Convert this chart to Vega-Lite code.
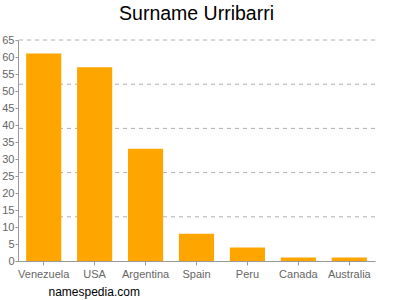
{
  "$schema": "https://vega.github.io/schema/vega-lite/v6.json",
  "width": 357,
  "height": 221,
  "autosize": {"type": "none"},
  "padding": {"left": 18, "top": 40, "right": 25, "bottom": 39},
  "background": "white",
  "title": {
    "text": "Surname Urribarri",
    "font": "Liberation Sans",
    "fontSize": 19.5,
    "fontWeight": "normal",
    "color": "#000",
    "anchor": "middle",
    "offset": 10
  },
  "datasets": {
    "bars": [
      {"country": "Venezuela", "count": 61},
      {"country": "USA", "count": 57},
      {"country": "Argentina", "count": 33},
      {"country": "Spain", "count": 8},
      {"country": "Peru", "count": 4},
      {"country": "Canada", "count": 1},
      {"country": "Australia", "count": 1}
    ],
    "grid": [
      {"level": 13}, {"level": 26}, {"level": 39}, {"level": 52}, {"level": 65}
    ]
  },
  "config": {
    "view": {"stroke": null},
    "axis": {"labelFont": "Liberation Sans", "titleFont": "Liberation Sans"}
  },
  "layer": [
    {
      "data": {"name": "grid"},
      "mark": {"type": "rule", "color": "#b0b0b0", "strokeDash": [4, 4], "strokeWidth": 1},
      "encoding": {
        "y": {
          "field": "level",
          "type": "quantitative",
          "scale": {"domain": [0, 65], "nice": false},
          "axis": {
            "title": null,
            "values": [0, 5, 10, 15, 20, 25, 30, 35, 40, 45, 50, 55, 60, 65],
            "grid": false,
            "labelFontSize": 11,
            "labelColor": "#666",
            "labelPadding": 1,
            "domainColor": "#999",
            "tickColor": "#999",
            "tickSize": 3
          }
        }
      }
    },
    {
      "data": {"name": "bars"},
      "mark": {"type": "bar", "color": "#ffa500"},
      "encoding": {
        "x": {
          "field": "country",
          "type": "nominal",
          "sort": null,
          "scale": {"paddingInner": 0.31, "paddingOuter": 0.16},
          "axis": {
            "title": "namespedia.com",
            "titleFontSize": 12,
            "titleFontWeight": "normal",
            "titleColor": "#000",
            "titleAnchor": "start",
            "titleAlign": "left",
            "titleX": 30,
            "titleY": 25,
            "labelAngle": 0,
            "labelFontSize": 11,
            "labelColor": "#666",
            "labelPadding": 3,
            "domainColor": "#999",
            "tickColor": "#999",
            "tickSize": 4,
            "grid": false
          }
        },
        "y": {
          "field": "count",
          "type": "quantitative",
          "scale": {"domain": [0, 65], "nice": false},
          "axis": {
            "title": null,
            "values": [0, 5, 10, 15, 20, 25, 30, 35, 40, 45, 50, 55, 60, 65],
            "grid": false,
            "labelFontSize": 11,
            "labelColor": "#666",
            "labelPadding": 1,
            "domainColor": "#999",
            "tickColor": "#999",
            "tickSize": 3
          }
        }
      }
    }
  ]
}
